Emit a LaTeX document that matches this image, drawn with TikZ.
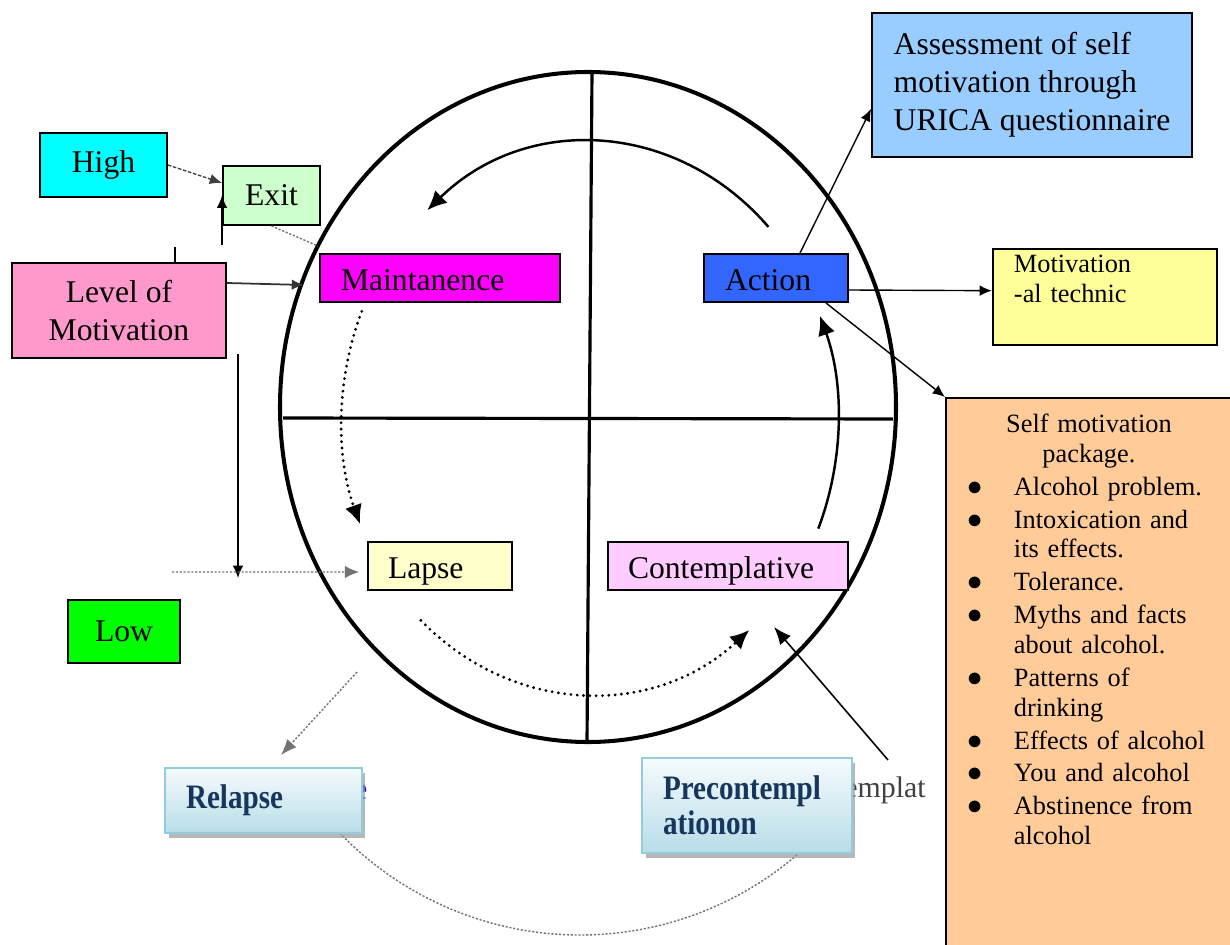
\documentclass[tikz,border=0pt]{standalone}
\usepackage{fontspec}
\setmainfont{Liberation Serif}
\newfontfamily\narrowserif[FakeStretch=0.85]{Liberation Serif}
\usetikzlibrary{arrows.meta,shadows}
\definecolor{highcyan}{RGB}{0,255,255}
\definecolor{exitgreen}{RGB}{204,255,204}
\definecolor{levelpink}{RGB}{255,153,204}
\definecolor{maintmagenta}{RGB}{255,0,255}
\definecolor{actionblue}{RGB}{51,102,255}
\definecolor{assessblue}{RGB}{153,204,255}
\definecolor{motivyellow}{RGB}{255,255,153}
\definecolor{pkgpeach}{RGB}{255,204,153}
\definecolor{lapseyellow}{RGB}{255,255,204}
\definecolor{contpink}{RGB}{255,204,255}
\definecolor{lowgreen}{RGB}{0,255,0}
\definecolor{phaseedge}{RGB}{147,205,221}
\definecolor{phasetop}{RGB}{246,251,253}
\definecolor{phasebottom}{RGB}{183,221,232}
\definecolor{phasetext}{RGB}{23,54,93}
\newcommand{\bigfont}{\fontsize{18}{21.6}\selectfont}
\newcommand{\pkgfont}{\fontsize{15}{17}\selectfont}
\newcommand{\phasefont}{\narrowserif\bfseries\fontsize{19.5}{20}\selectfont}
\newcommand{\pkgitem}[1]{\par\vspace{1.7pt}\hangindent=0.96cm\hangafter=1\noindent
  \makebox[0.96cm][l]{\hspace{1pt}{\fontsize{17}{17}\selectfont$\bullet$}}#1}

\begin{document}
\begin{tikzpicture}[x=0.02cm, y=-0.02cm,
  box/.style={draw, line width=1.1pt, font=\bigfont, inner sep=0pt},
  stage/.style={box, minimum height=0.96cm, inner xsep=0.42cm, text height=0.52cm, text depth=0pt, align=left},
  phase/.style={draw=phaseedge, line width=1.4pt, top color=phasetop, bottom color=phasebottom,
    drop shadow={shadow xshift=0.07cm, shadow yshift=-0.1cm, fill=black!40, opacity=0.7},
    inner xsep=0.42cm, align=left, text=phasetext, font=\phasefont},
  cycle/.style={line width=1.4pt, -{Latex[length=11pt,width=10pt]}},
  dotcycle/.style={cycle, dash pattern=on 0pt off 3.6pt, line cap=round, line width=1.8pt},
  link/.style={line width=0.8pt, -{Latex[length=7pt,width=6pt]}},
  faint/.style={black!55, line width=0.8pt, dash pattern=on 1.2pt off 1pt}]
  \clip (0,0) rectangle (1230,945);
  \fill[white] (0,0) rectangle (1230,945);

  % Wheel of change
  \draw[line width=2.3pt] (588,407) ellipse [x radius=308, y radius=335];
  \draw[line width=1.8pt] (592,72) -- (587,742);
  \draw[line width=1.8pt] (283,418) -- (893,419);
  \draw[cycle] (590,420) ++(-44:248 and 278) arc[start angle=-44, end angle=-131, x radius=248, y radius=278];
  \draw[cycle] (590,420) ++(23:248 and 278) arc[start angle=23, end angle=-22, x radius=248, y radius=278];
  \draw[dotcycle] (590,420) ++(-157:248 and 278) arc[start angle=-157, end angle=-202, x radius=248, y radius=278];
  \draw[dotcycle] (590,420) ++(-227:248 and 274) arc[start angle=-227, end angle=-310, x radius=248, y radius=274];
  \draw[faint] (580,601) ++(-220:334) arc[start angle=-220, end angle=-315, radius=334];

  % Text left over from the scan
  \node[font=\fontsize{17}{20}\selectfont, text=black!75, anchor=west, inner sep=0pt] (ghostpre) at (844,790) {emplat};
  \node[font=\bigfont, text=blue, anchor=west, inner sep=0pt] (ghostrel) at (353,792) {e};

  % Boxes
  \node[box, fill=highcyan, minimum width=2.54cm, minimum height=1.28cm] (high) at (103.5,165) {High};
  \node[box, fill=exitgreen, minimum width=1.94cm, minimum height=1.18cm] (exit) at (271.5,195.5) {Exit};
  \node[box, fill=levelpink, minimum width=4.28cm, minimum height=1.9cm, align=center] (level) at (119,310.5) {Level of\\Motivation};
  \node[box, fill=lowgreen, minimum width=2.24cm, minimum height=1.26cm] (low) at (124,631.5) {Low};
  \node[stage, fill=maintmagenta, text width=3.96cm] (maint) at (440,278) {Maintanence};
  \node[stage, fill=actionblue, text width=2.04cm] (action) at (776,278) {Action};
  \node[stage, fill=lapseyellow, text width=2.08cm, inner xsep=0.4cm] (lapse) at (440,566) {Lapse};
  \node[stage, fill=contpink, text width=4cm, inner xsep=0.4cm] (contemp) at (728,566) {Contemplative};
  \node[box, fill=assessblue, minimum width=6.4cm, minimum height=2.88cm, align=left] (assess) at (1032,85)
    {Assessment of self\\motivation through\\URICA questionnaire};
  \node[box, fill=motivyellow, anchor=north west, inner xsep=0.42cm, inner ysep=0.12cm, text width=3.64cm,
    text depth=1.34cm, align=left, font=\pkgfont] (motiv) at (992,248) {Motivation\\-al technic};
  \node[box, fill=pkgpeach, anchor=north west, inner xsep=0.4cm, inner ysep=0.32cm, text width=4.92cm,
    text depth=10cm, font=\pkgfont] (pkg) at (945,397) {%
    {\centering Self motivation\\package.\par}
    \pkgitem{Alcohol problem.}
    \pkgitem{Intoxication and\newline its effects.}
    \pkgitem{Tolerance.}
    \pkgitem{Myths and facts\newline about alcohol.}
    \pkgitem{Patterns of\newline drinking}
    \pkgitem{Effects of alcohol}
    \pkgitem{You and alcohol}
    \pkgitem{Abstinence from\newline alcohol}\par};
  \node[phase, minimum width=3.94cm, minimum height=1.3cm, text width=3.1cm] (relapse) at (263.5,800.5) {Relapse};
  \node[phase, minimum width=4.2cm, minimum height=1.9cm, text width=3.36cm] (precon) at (747,805.5) {Precontempl\\ationon};

  % Free ends
  \coordinate (lvtop) at (222,245);
  \coordinate (lvdrop) at (238,354);
  \coordinate (lvlow) at (238,578);
  \coordinate (lapsefeed) at (172,572);
  \coordinate (exitrim) at (318,246);
  \coordinate (pcfoot) at (888,760);
  \coordinate (pchead) at (774,627);
  \coordinate (rlfoot) at (357,672);
  \coordinate (rlhead) at (281,755);

  % Connectors
  \draw[link, black!75, dash pattern=on 2pt off 1pt] (high.east) -- ([yshift=0.25cm]exit.west);
  \draw[link] (lvtop) -- (lvtop |- exit.west);
  \draw[line width=0.8pt] ([xshift=1.12cm]level.north) -- ++(0,-15);
  \draw[faint] (exit.south) -- (exitrim);
  \draw[link, line width=1pt, black!80] ([yshift=0.55cm]level.east) -- ([xshift=-0.3cm,yshift=-0.14cm]maint.west);
  \draw[link] (lvdrop) -- (lvlow);
  \draw[faint, -{Latex[length=8pt,width=7pt]}] (lapsefeed) -- ([xshift=-0.16cm,yshift=-0.12cm]lapse.west);
  \draw[link] ([xshift=0.48cm]action.north) -- ([yshift=-0.48cm]assess.west);
  \draw[link] ([yshift=-0.24cm]action.east) -- ([yshift=0.13cm]motiv.west);
  \draw[link] ([xshift=-0.46cm]action.south east) -- (pkg.north west);
  \draw[line width=0.9pt, -{Latex[length=10pt,width=8pt]}] (pcfoot) -- (pchead);
  \draw[faint, -{Latex[length=9pt,width=7pt]}] (rlfoot) -- (rlhead);
\end{tikzpicture}
\end{document}
